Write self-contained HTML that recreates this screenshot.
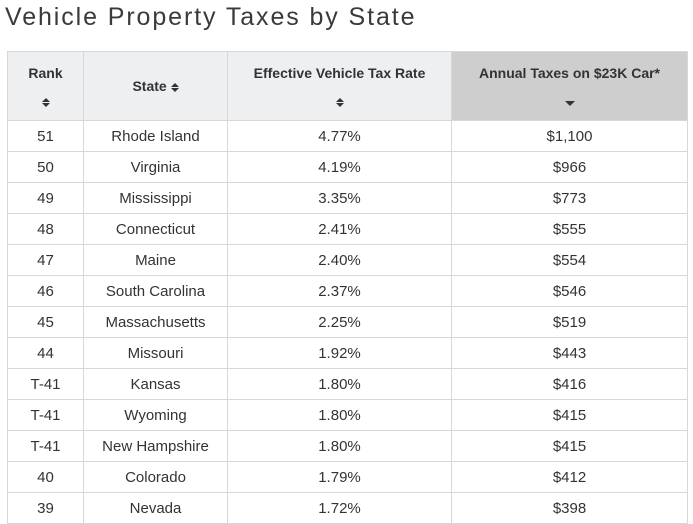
<!DOCTYPE html>
<html><head><style>
body{margin:0;background:#fff;width:693px;height:517px;overflow:hidden;font-family:"Liberation Sans",sans-serif;color:#333;}
h1{position:absolute;left:5px;top:1px;margin:0;font-weight:normal;font-size:25px;letter-spacing:1.9px;color:#3a3a3a;line-height:32px;}
table{position:absolute;left:7px;top:51px;border-collapse:collapse;font-size:15px;}
th,td{border:1px solid #d8d8d8;text-align:center;padding:0;}
th{background:#eeeff1;height:68px;font-size:14px;font-weight:bold;color:#333;vertical-align:middle;}
th.s{background:#cecece;}
td{height:30px;color:#333;}
.ar{display:block;margin-top:17px;line-height:8px;}
svg{vertical-align:middle;}
</style></head><body>
<h1>Vehicle Property Taxes by State</h1>
<table>
<tr><th style="width:75px">Rank<span class="ar"><svg width="8" height="9"><path d="M0 4L4 0L8 4ZM0 5L8 5L4 9Z" fill="#333"/></svg></span></th>
<th style="width:143px">State <svg width="8" height="9"><path d="M0 4L4 0L8 4ZM0 5L8 5L4 9Z" fill="#333"/></svg></th>
<th style="width:223px">Effective Vehicle Tax Rate<span class="ar"><svg width="8" height="9"><path d="M0 4L4 0L8 4ZM0 5L8 5L4 9Z" fill="#333"/></svg></span></th>
<th class="s" style="width:235px">Annual Taxes on $23K Car*<span class="ar"><svg width="10" height="6"><path d="M0 0L10 0L5 5Z" fill="#333"/></svg></span></th></tr>
<tr><td>51</td><td>Rhode Island</td><td>4.77%</td><td>$1,100</td></tr>
<tr><td>50</td><td>Virginia</td><td>4.19%</td><td>$966</td></tr>
<tr><td>49</td><td>Mississippi</td><td>3.35%</td><td>$773</td></tr>
<tr><td>48</td><td>Connecticut</td><td>2.41%</td><td>$555</td></tr>
<tr><td>47</td><td>Maine</td><td>2.40%</td><td>$554</td></tr>
<tr><td>46</td><td>South Carolina</td><td>2.37%</td><td>$546</td></tr>
<tr><td>45</td><td>Massachusetts</td><td>2.25%</td><td>$519</td></tr>
<tr><td>44</td><td>Missouri</td><td>1.92%</td><td>$443</td></tr>
<tr><td>T-41</td><td>Kansas</td><td>1.80%</td><td>$416</td></tr>
<tr><td>T-41</td><td>Wyoming</td><td>1.80%</td><td>$415</td></tr>
<tr><td>T-41</td><td>New Hampshire</td><td>1.80%</td><td>$415</td></tr>
<tr><td>40</td><td>Colorado</td><td>1.79%</td><td>$412</td></tr>
<tr><td>39</td><td>Nevada</td><td>1.72%</td><td>$398</td></tr>
</table>
</body></html>
